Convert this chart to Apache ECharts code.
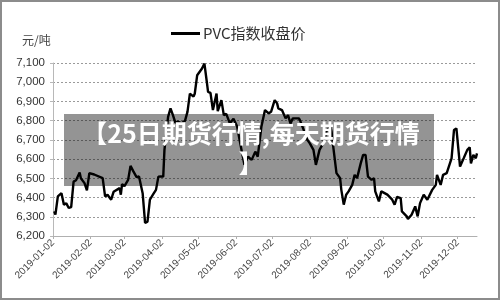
<!DOCTYPE html>
<html>
<head>
    <meta charset="UTF-8">
    <title>PVC指数收盘价</title>
    <script src="https://cdn.jsdelivr.net/npm/echarts@6/dist/echarts.min.js"></script>
    <style>
        html, body { margin: 0; padding: 0; background: #fff; }
        #main { width: 500px; height: 300px; }
    </style>
</head>
<body>
<div id="main"></div>
<script type="text/javascript">
    // 交易日
    var tradeDates = [
        '2019-01-03', '2019-01-04', '2019-01-06', '2019-01-09', '2019-01-11', '2019-01-13', '2019-01-15', '2019-01-17',
        '2019-01-19', '2019-01-21', '2019-01-24', '2019-01-25', '2019-01-28', '2019-01-30', '2019-02-01', '2019-02-05',
        '2019-02-12', '2019-02-14', '2019-02-16', '2019-02-19', '2019-02-21', '2019-02-26', '2019-02-27', '2019-02-28',
        '2019-03-02', '2019-03-05', '2019-03-07', '2019-03-09', '2019-03-12', '2019-03-14', '2019-03-17', '2019-03-19',
        '2019-03-21', '2019-03-23', '2019-03-26', '2019-03-28', '2019-03-30', '2019-04-01', '2019-04-03', '2019-04-04',
        '2019-04-07', '2019-04-09', '2019-04-11', '2019-04-13', '2019-04-15', '2019-04-18', '2019-04-21', '2019-04-23',
        '2019-04-25', '2019-04-28', '2019-04-29', '2019-05-01', '2019-05-05', '2019-05-07', '2019-05-09', '2019-05-10',
        '2019-05-12', '2019-05-14', '2019-05-17', '2019-05-18', '2019-05-21', '2019-05-23', '2019-05-25', '2019-05-28',
        '2019-05-31', '2019-06-03', '2019-06-05', '2019-06-09', '2019-06-12', '2019-06-15', '2019-06-18', '2019-06-20',
        '2019-06-23', '2019-06-26', '2019-06-29', '2019-07-01', '2019-07-04', '2019-07-06', '2019-07-07', '2019-07-10',
        '2019-07-13', '2019-07-15', '2019-07-17', '2019-07-19', '2019-07-24', '2019-07-25', '2019-07-28', '2019-07-31',
        '2019-08-02', '2019-08-05', '2019-08-07', '2019-08-08', '2019-08-10', '2019-08-13', '2019-08-16', '2019-08-19',
        '2019-08-20', '2019-08-21', '2019-08-24', '2019-08-27', '2019-08-28', '2019-08-30', '2019-09-01', '2019-09-03',
        '2019-09-06', '2019-09-08', '2019-09-10', '2019-09-13', '2019-09-15', '2019-09-17', '2019-09-19', '2019-09-22',
        '2019-09-24', '2019-09-25', '2019-09-28', '2019-09-30', '2019-10-05', '2019-10-09', '2019-10-11', '2019-10-13',
        '2019-10-16', '2019-10-17', '2019-10-21', '2019-10-22', '2019-10-25', '2019-10-28', '2019-10-30', '2019-11-01',
        '2019-11-04', '2019-11-07', '2019-11-11', '2019-11-14', '2019-11-15', '2019-11-18', '2019-11-20', '2019-11-23',
        '2019-11-27', '2019-11-29', '2019-12-01', '2019-12-04', '2019-12-07', '2019-12-10', '2019-12-12', '2019-12-13',
        '2019-12-15', '2019-12-17', '2019-12-18'
    ];

    // PVC指数收盘价（元/吨）
    var closePrices = [
        6328, 6311, 6406, 6423, 6363, 6370, 6346, 6350,
        6483, 6490, 6530, 6500, 6475, 6437, 6527, 6520,
        6501, 6406, 6415, 6389, 6430, 6449, 6415, 6470,
        6460, 6492, 6565, 6540, 6506, 6510, 6423, 6268,
        6275, 6389, 6420, 6440, 6509, 6510, 6509, 6648,
        6820, 6864, 6829, 6790, 6795, 6786, 6800, 6846,
        6941, 6925, 6940, 7036, 7071, 7097, 7000, 6950,
        6945, 6855, 6941, 6850, 6907, 6829, 6835, 6786,
        6810, 6770, 6700, 6570, 6613, 6596, 6639, 6613,
        6768, 6855, 6838, 6846, 6907, 6890, 6864, 6855,
        6812, 6829, 6786, 6812, 6812, 6800, 6751, 6700,
        6682, 6648, 6570, 6596, 6648, 6682, 6751, 6768,
        6742, 6682, 6527, 6501, 6440, 6363, 6415, 6432,
        6466, 6518, 6501, 6578, 6622, 6622, 6509, 6492,
        6501, 6432, 6380, 6432, 6415, 6389, 6363, 6403,
        6397, 6328, 6302, 6289, 6311, 6354, 6302, 6371,
        6415, 6389, 6440, 6466, 6518, 6466, 6518, 6527,
        6604, 6751, 6760, 6561, 6604, 6648, 6661, 6578,
        6622, 6604, 6630
    ];

    var axisStart = '2019-01-02';
    var axisEnd = '2019-12-18';
    var yMin = 6200, yMax = 7100, yStep = 100;

    // 按自然日生成类目轴
    function pad(n) { return n < 10 ? '0' + n : '' + n; }
    var days = [];
    var d = new Date(axisStart + 'T00:00:00Z');
    var end = new Date(axisEnd + 'T00:00:00Z');
    while (d <= end) {
        days.push(d.getUTCFullYear() + '-' + pad(d.getUTCMonth() + 1) + '-' + pad(d.getUTCDate()));
        d.setUTCDate(d.getUTCDate() + 1);
    }
    var priceMap = {};
    for (var i = 0; i < tradeDates.length; i++) {
        priceMap[tradeDates[i]] = closePrices[i];
    }
    var seriesData = days.map(function (day) {
        return priceMap.hasOwnProperty(day) ? priceMap[day] : null;
    });

    function isMonthTick(index, value) {
        return value.slice(8) === '02';
    }

    var chart = echarts.init(document.getElementById('main'));
    var option = {
        animation: false,
        backgroundColor: '#fff',
        textStyle: { fontFamily: 'Liberation Sans, Arial, sans-serif' },
        legend: {
            left: 166,
            top: 21,
            itemWidth: 29,
            itemHeight: 3,
            itemGap: 4,
            icon: 'rect',
            data: ['PVC指数收盘价'],
            textStyle: {
                fontFamily: 'Noto Sans CJK SC',
                fontSize: 15,
                color: '#333',
                padding: [0, 0, 0, -2]
            }
        },
        grid: {
            left: 53,
            right: 23,
            top: 63,
            bottom: 64
        },
        xAxis: {
            type: 'category',
            boundaryGap: false,
            data: days,
            axisLine: { lineStyle: { color: '#b0b0b0', width: 1 } },
            axisTick: {
                interval: isMonthTick,
                length: 3,
                lineStyle: { color: '#b0b0b0' }
            },
            axisLabel: {
                interval: isMonthTick,
                rotate: 45,
                margin: 5,
                fontSize: 10,
                color: '#444'
            },
            splitLine: { show: false }
        },
        yAxis: {
            type: 'value',
            min: yMin,
            max: yMax,
            interval: yStep,
            axisLine: { show: true, lineStyle: { color: '#b8b8b8' } },
            axisTick: { show: true, length: 3, lineStyle: { color: '#b8b8b8' } },
            axisLabel: {
                fontSize: 11.5,
                color: '#333',
                margin: 8,
                formatter: function (v) { return v.toLocaleString('en-US'); }
            },
            splitLine: {
                lineStyle: { color: '#9a9a9a', type: [2, 2], width: 1 }
            }
        },
        series: [{
            name: 'PVC指数收盘价',
            type: 'line',
            data: seriesData,
            connectNulls: true,
            showSymbol: false,
            symbol: 'none',
            itemStyle: { color: '#000' },
            lineStyle: { color: '#000', width: 2.4 }
        }],
        graphic: [
            {
                type: 'text',
                left: 22,
                top: 34,
                style: {
                    text: '元/吨',
                    font: '12px "Noto Sans CJK SC"',
                    fill: '#444'
                }
            },
            {
                type: 'rect',
                z: 100,
                shape: { x: 64, y: 114, width: 370, height: 72 },
                style: { fill: 'rgba(0,0,0,0.42)' }
            },
            {
                type: 'text',
                z: 101,
                x: 251,
                y: 118,
                style: {
                    text: '【25日期货行情,每天期货行情\n】',
                    font: 'bold 25px "Noto Sans CJK SC"',
                    lineHeight: 30,
                    fill: '#fff',
                    align: 'center',
                    verticalAlign: 'top'
                }
            },
            {
                type: 'rect',
                z: 102,
                shape: { x: 1, y: 1, width: 498, height: 298 },
                style: { fill: 'none', stroke: '#8c8c8c', lineWidth: 2 }
            }
        ]
    };
    chart.setOption(option);
</script>
</body>
</html>
